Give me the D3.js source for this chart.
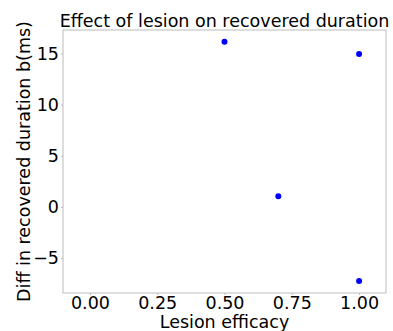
<!DOCTYPE html>
<meta charset="utf-8">
<style>
    body { margin: 0; background: #fff; }
    text { font-family: "DejaVu Sans", sans-serif; fill: #000; }
    .axis path, .axis line { stroke: #bcbcbc; }
</style>
<body>
<script src="https://d3js.org/d3.v7.min.js"></script>
<script>

    var width = 393,
        height = 331;

    // lesion efficacy vs diff in recovered duration
    var efficacy = [0.5, 1.0, 0.7, 1.0];
    var diffDuration = [16.15, 14.95, 1.05, -7.25];

    var xTicks = [0, 0.25, 0.5, 0.75, 1.0];
    var yTicks = [-5, 0, 5, 10, 15];

    var margin = {top: 30, right: 7, bottom: 38, left: 63};

    var x = d3.scaleLinear()
        .domain([-0.1, 1.1])
        .range([margin.left, width - margin.right]);

    var y = d3.scaleLinear()
        .domain([-8.42, 17.3])
        .range([height - margin.bottom, margin.top]);

    var svg = d3.select("body").append("svg")
        .attr("width", width)
        .attr("height", height);

    svg.append("g")
        .attr("class", "axis x")
        .attr("transform", "translate(0," + (height - margin.bottom) + ")")
        .call(d3.axisBottom(x).tickValues(xTicks).tickFormat(d3.format(".2f")).tickSizeInner(2).tickSizeOuter(0));

    svg.append("g")
        .attr("class", "axis y")
        .attr("transform", "translate(" + margin.left + ",0)")
        .call(d3.axisLeft(y).tickValues(yTicks).tickFormat(function(d) { return d < 0 ? "\u2212" + (-d) : d; }).tickSizeInner(2).tickSizeOuter(0));

    svg.selectAll(".axis text").style("font-size", "17.5px").attr("fill", "#000");
    svg.selectAll(".axis.x text").attr("y", 15.5).attr("dy", 0);
    svg.selectAll(".axis.y text").attr("x", -4);
    svg.selectAll(".axis .domain").remove();

    // frame
    svg.append("rect")
        .attr("x", margin.left)
        .attr("y", margin.top)
        .attr("width", width - margin.left - margin.right)
        .attr("height", height - margin.top - margin.bottom)
        .attr("fill", "none")
        .attr("stroke", "#bcbcbc")
        .attr("stroke-width", 1);

    svg.selectAll("circle")
        .data(efficacy)
        .enter().append("circle")
        .attr("cx", function(d) { return x(d); })
        .attr("cy", function(d, i) { return y(diffDuration[i]); })
        .attr("r", 3)
        .style("fill", "#0000ff");

    svg.append("text")
        .attr("x", (margin.left + width - margin.right) / 2)
        .attr("y", 26.5)
        .attr("text-anchor", "middle")
        .style("font-size", "17.5px")
        .text("Effect of lesion on recovered duration");

    svg.append("text")
        .attr("x", (margin.left + width - margin.right) / 2)
        .attr("y", 327.5)
        .attr("text-anchor", "middle")
        .style("font-size", "17.5px")
        .text("Lesion efficacy");

    svg.append("text")
        .attr("transform", "translate(29.5," + (margin.top + height - margin.bottom) / 2 + ") rotate(-90)")
        .attr("text-anchor", "middle")
        .style("font-size", "17.5px")
        .text("Diff in recovered duration b(ms)");

</script>
